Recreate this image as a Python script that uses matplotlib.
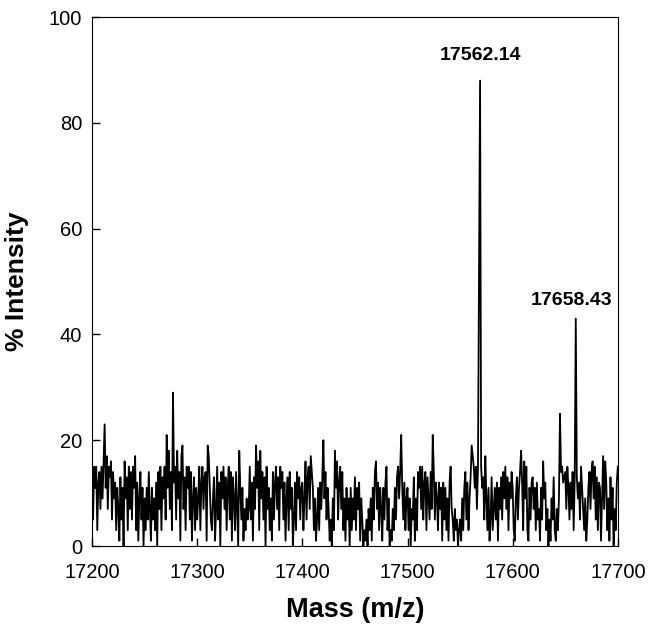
import numpy as np
import matplotlib
matplotlib.use("Agg")
from matplotlib import pyplot as plt

# Spectrum, one value per Da from 17200 to 17700
mass_start = 17200
intensity = [
    13, 5, 15, 11, 15, 3, 12, 14, 7, 15, 9, 16, 23, 11, 17, 7, 15, 13, 16, 5, 14, 9, 12, 3, 11,
    7, 1, 13, 5, 11, 0, 16, 9, 13, 3, 15, 7, 14, 5, 15, 11, 17, 3, 12, 1, 9, 14, 5, 11, 0,
    9, 3, 11, 5, 14, 7, 1, 11, 5, 9, 3, 12, 0, 14, 7, 15, 3, 13, 9, 15, 5, 21, 11, 18, 7,
    14, 3, 29, 12, 15, 5, 18, 9, 14, 1, 17, 19, 7, 13, 3, 15, 11, 15, 5, 14, 1, 9, 13, 3, 11,
    5, 9, 15, 3, 12, 15, 7, 13, 14, 1, 19, 17, 11, 5, 3, 9, 13, 1, 7, 15, 5, 12, 0, 14, 9,
    15, 7, 13, 3, 11, 15, 5, 14, 1, 13, 9, 3, 14, 7, 0, 18, 11, 5, 11, 1, 7, 3, 9, 5, 7,
    15, 5, 12, 1, 13, 7, 19, 11, 16, 3, 18, 9, 14, 5, 13, 0, 15, 7, 11, 3, 9, 1, 14, 5, 12,
    15, 7, 13, 3, 15, 11, 14, 5, 12, 1, 9, 13, 3, 14, 7, 11, 0, 5, 12, 3, 14, 9, 13, 5, 11,
    12, 3, 9, 16, 5, 13, 15, 7, 17, 14, 11, 3, 9, 1, 5, 11, 3, 12, 7, 13, 20, 9, 14, 5, 11,
    7, 1, 5, 0, 9, 3, 18, 11, 16, 5, 12, 15, 7, 14, 3, 9, 1, 11, 5, 9, 0, 11, 3, 9, 5,
    13, 3, 11, 7, 12, 1, 9, 5, 0, 3, 1, 5, 0, 7, 3, 9, 1, 11, 5, 14, 16, 7, 12, 3, 11,
    7, 1, 11, 5, 12, 15, 3, 9, 0, 3, 1, 7, 3, 11, 5, 13, 15, 9, 14, 21, 11, 5, 12, 3, 9,
    11, 3, 9, 0, 7, 5, 13, 1, 9, 3, 14, 11, 15, 7, 15, 5, 12, 14, 3, 13, 9, 5, 14, 7, 21,
    14, 5, 12, 9, 3, 12, 7, 11, 1, 12, 5, 11, 3, 9, 1, 12, 15, 7, 5, 1, 7, 3, 5, 0, 3,
    5, 1, 9, 3, 11, 14, 5, 12, 3, 9, 13, 19, 17, 15, 11, 15, 7, 15, 51, 88, 15, 11, 13, 5, 17,
    9, 3, 11, 1, 5, 13, 3, 7, 11, 5, 12, 1, 11, 7, 13, 5, 14, 9, 15, 7, 13, 3, 12, 9, 14,
    11, 3, 1, 9, 13, 5, 11, 14, 18, 12, 3, 16, 9, 15, 3, 1, 11, 5, 12, 13, 7, 11, 3, 12, 5,
    7, 1, 11, 5, 16, 9, 12, 3, 7, 0, 5, 1, 9, 5, 13, 3, 1, 7, 3, 9, 25, 14, 15, 12, 13,
    14, 7, 15, 11, 5, 12, 7, 14, 3, 13, 43, 13, 9, 12, 5, 15, 11, 7, 3, 9, 1, 5, 11, 14, 7,
    14, 16, 9, 15, 5, 13, 3, 12, 11, 1, 9, 17, 7, 16, 12, 3, 9, 1, 13, 5, 11, 0, 7, 3, 12,
    15,
]
mass = mass_start + np.arange(len(intensity))

peak_labels = ["17562.14", "17658.43"]
peak_label_x = [17569, 17656]
peak_label_y = [92.8, 46.5]

plt.rcParams['font.family'] = ['Liberation Sans', 'DejaVu Sans']

fig = plt.figure(figsize=(6.54, 6.31), dpi=100)
ax = fig.add_axes([0.1407, 0.1347, 0.804, 0.838])

ax.plot(mass, intensity, color="black", lw=1.3)

for lab, lx, ly in zip(peak_labels, peak_label_x, peak_label_y):
    ax.text(lx, ly, lab, ha="center", va="center", fontsize=14, fontweight="bold")

ax.set_xlim(17200, 17700)
ax.set_ylim(0, 100)
ax.set_xticks(np.arange(17200, 17701, 100))
ax.set_yticks(np.arange(0, 101, 20))
ax.tick_params(direction="in", labelsize=14.5, length=6, width=1)
ax.tick_params(axis="y", pad=7)
ax.tick_params(axis="x", pad=12)

ax.set_xlabel("Mass (m/z)", fontsize=19.5, fontweight="bold", labelpad=11)
ax.set_ylabel("% Intensity", fontsize=19, fontweight="bold", labelpad=14)

fig.savefig("out.png", dpi=100)
